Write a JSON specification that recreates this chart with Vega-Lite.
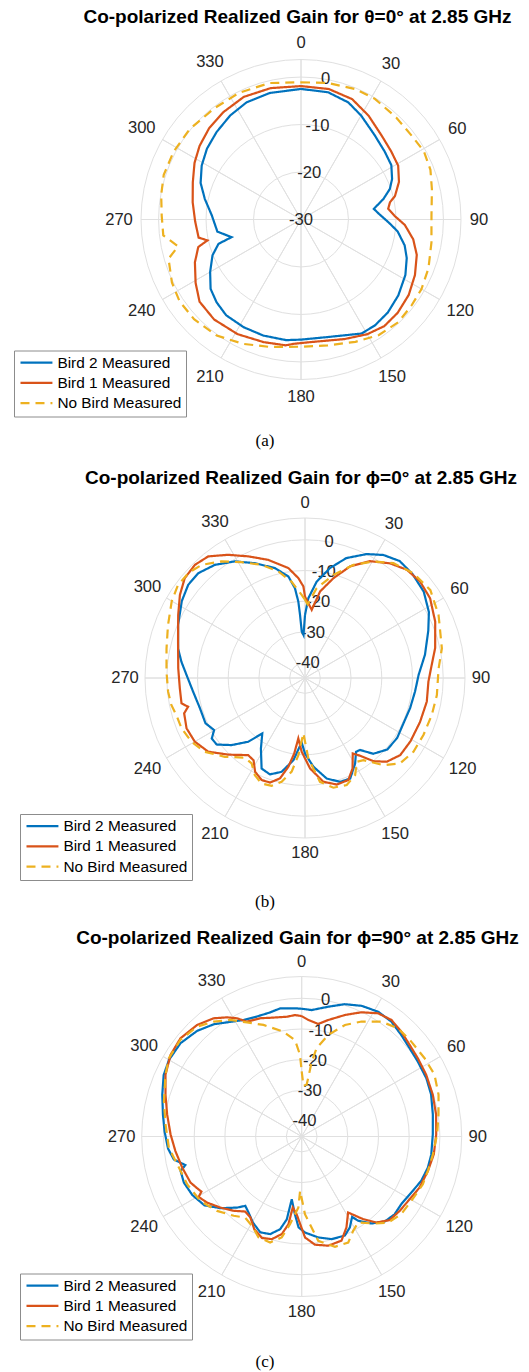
{
"$schema": "https://vega.github.io/schema/vega-lite/v6.json",
"background": "white",
"padding": {"top": 7.5, "left": 5, "right": 5, "bottom": 5},
"spacing": 19.5,
"datasets": {
"angles": [{"t":0,"lab":"0"},{"t":30,"lab":"30"},{"t":60,"lab":"60"},{"t":90,"lab":"90"},{"t":120,"lab":"120"},{"t":150,"lab":"150"},{"t":180,"lab":"180"},{"t":210,"lab":"210"},{"t":240,"lab":"240"},{"t":270,"lab":"270"},{"t":300,"lab":"300"},{"t":330,"lab":"330"}],
"ringsA": [{"g":-20},{"g":-10},{"g":0},{"g":3.7}],
"ringsB": [{"g":-40},{"g":-30},{"g":-20},{"g":-10},{"g":0},{"g":7.1}],
"ticksA": [{"g":-30,"lab":"-30"},{"g":-20,"lab":"-20"},{"g":-10,"lab":"-10"},{"g":0,"lab":"0"}],
"ticksB": [{"g":-40,"lab":"-40"},{"g":-30,"lab":"-30"},{"g":-20,"lab":"-20"},{"g":-10,"lab":"-10"},{"g":0,"lab":"0"}],
"a": [
{"s":"Bird 2 Measured","t":0,"g":-2.5},{"s":"Bird 2 Measured","t":12,"g":-2.6},{"s":"Bird 2 Measured","t":22,"g":-3.4},{"s":"Bird 2 Measured","t":30,"g":-4.7},{"s":"Bird 2 Measured","t":41,"g":-6.4},{"s":"Bird 2 Measured","t":51,"g":-7.3},{"s":"Bird 2 Measured","t":59,"g":-7.8},{"s":"Bird 2 Measured","t":66,"g":-9.0},{"s":"Bird 2 Measured","t":71,"g":-10.2},{"s":"Bird 2 Measured","t":76,"g":-12.1},{"s":"Bird 2 Measured","t":81.7,"g":-14.5},{"s":"Bird 2 Measured","t":86,"g":-13.5},{"s":"Bird 2 Measured","t":92,"g":-11.5},{"s":"Bird 2 Measured","t":97,"g":-9.5},{"s":"Bird 2 Measured","t":104,"g":-7.5},{"s":"Bird 2 Measured","t":110,"g":-6.3},{"s":"Bird 2 Measured","t":118,"g":-5.1},{"s":"Bird 2 Measured","t":128,"g":-4.0},{"s":"Bird 2 Measured","t":137,"g":-3.2},{"s":"Bird 2 Measured","t":145,"g":-2.8},{"s":"Bird 2 Measured","t":152,"g":-2.8},{"s":"Bird 2 Measured","t":167,"g":-4.6},{"s":"Bird 2 Measured","t":180,"g":-4.7},{"s":"Bird 2 Measured","t":187,"g":-4.4},{"s":"Bird 2 Measured","t":198,"g":-4.3},{"s":"Bird 2 Measured","t":208,"g":-4.3},{"s":"Bird 2 Measured","t":218,"g":-4.4},{"s":"Bird 2 Measured","t":225.6,"g":-5.1},{"s":"Bird 2 Measured","t":232.5,"g":-6.0},{"s":"Bird 2 Measured","t":240,"g":-7.9},{"s":"Bird 2 Measured","t":248,"g":-9.9},{"s":"Bird 2 Measured","t":253.6,"g":-11.9},{"s":"Bird 2 Measured","t":255.7,"g":-14.9},{"s":"Bird 2 Measured","t":261.8,"g":-12.2},{"s":"Bird 2 Measured","t":272.6,"g":-11.2},{"s":"Bird 2 Measured","t":282,"g":-9.3},{"s":"Bird 2 Measured","t":290,"g":-7.5},{"s":"Bird 2 Measured","t":298.5,"g":-6.2},{"s":"Bird 2 Measured","t":307,"g":-5.2},{"s":"Bird 2 Measured","t":316,"g":-4.4},{"s":"Bird 2 Measured","t":325.7,"g":-3.5},{"s":"Bird 2 Measured","t":335,"g":-2.8},{"s":"Bird 2 Measured","t":346,"g":-2.55},{"s":"Bird 2 Measured","t":360,"g":-2.5},
{"s":"Bird 1 Measured","t":0,"g":-1.9},{"s":"Bird 1 Measured","t":12,"g":-1.9},{"s":"Bird 1 Measured","t":23,"g":-2.45},{"s":"Bird 1 Measured","t":33,"g":-3.9},{"s":"Bird 1 Measured","t":44,"g":-5.5},{"s":"Bird 1 Measured","t":53,"g":-6.2},{"s":"Bird 1 Measured","t":61,"g":-6.6},{"s":"Bird 1 Measured","t":69,"g":-7.9},{"s":"Bird 1 Measured","t":76,"g":-9.6},{"s":"Bird 1 Measured","t":79,"g":-10.9},{"s":"Bird 1 Measured","t":83,"g":-11.5},{"s":"Bird 1 Measured","t":88,"g":-10.2},{"s":"Bird 1 Measured","t":93,"g":-8.1},{"s":"Bird 1 Measured","t":100,"g":-6.0},{"s":"Bird 1 Measured","t":107,"g":-4.5},{"s":"Bird 1 Measured","t":116,"g":-3.3},{"s":"Bird 1 Measured","t":125,"g":-2.3},{"s":"Bird 1 Measured","t":134,"g":-1.7},{"s":"Bird 1 Measured","t":142,"g":-1.5},{"s":"Bird 1 Measured","t":150,"g":-2.1},{"s":"Bird 1 Measured","t":160,"g":-3.2},{"s":"Bird 1 Measured","t":175,"g":-4.1},{"s":"Bird 1 Measured","t":183,"g":-3.8},{"s":"Bird 1 Measured","t":187,"g":-3.3},{"s":"Bird 1 Measured","t":197,"g":-3.0},{"s":"Bird 1 Measured","t":209,"g":-2.4},{"s":"Bird 1 Measured","t":221,"g":-2.1},{"s":"Bird 1 Measured","t":231,"g":-2.5},{"s":"Bird 1 Measured","t":239,"g":-4.1},{"s":"Bird 1 Measured","t":248,"g":-5.9},{"s":"Bird 1 Measured","t":255,"g":-7.6},{"s":"Bird 1 Measured","t":257.4,"g":-9.8},{"s":"Bird 1 Measured","t":260,"g":-8.1},{"s":"Bird 1 Measured","t":269,"g":-7.7},{"s":"Bird 1 Measured","t":279,"g":-6.9},{"s":"Bird 1 Measured","t":289,"g":-5.9},{"s":"Bird 1 Measured","t":298,"g":-4.6},{"s":"Bird 1 Measured","t":306,"g":-3.6},{"s":"Bird 1 Measured","t":315,"g":-2.7},{"s":"Bird 1 Measured","t":324,"g":-2.1},{"s":"Bird 1 Measured","t":335,"g":-1.5},{"s":"Bird 1 Measured","t":347,"g":-1.6},{"s":"Bird 1 Measured","t":360,"g":-1.9},
{"s":"No Bird Measured","t":0,"g":-1.1},{"s":"No Bird Measured","t":11,"g":-0.7},{"s":"No Bird Measured","t":22.5,"g":-0.25},{"s":"No Bird Measured","t":31.5,"g":-0.2},{"s":"No Bird Measured","t":43,"g":-0.6},{"s":"No Bird Measured","t":53,"g":-0.75},{"s":"No Bird Measured","t":61,"g":-0.4},{"s":"No Bird Measured","t":69,"g":-0.8},{"s":"No Bird Measured","t":77,"g":-1.7},{"s":"No Bird Measured","t":88,"g":-2.5},{"s":"No Bird Measured","t":100,"g":-2.1},{"s":"No Bird Measured","t":111,"g":-1.25},{"s":"No Bird Measured","t":120,"g":-0.7},{"s":"No Bird Measured","t":128,"g":-0.5},{"s":"No Bird Measured","t":136.5,"g":-0.2},{"s":"No Bird Measured","t":146,"g":-0.65},{"s":"No Bird Measured","t":156,"g":-1.8},{"s":"No Bird Measured","t":168,"g":-2.9},{"s":"No Bird Measured","t":180,"g":-3.2},{"s":"No Bird Measured","t":194,"g":-2.35},{"s":"No Bird Measured","t":205,"g":-1.1},{"s":"No Bird Measured","t":216,"g":0.2},{"s":"No Bird Measured","t":227,"g":0.8},{"s":"No Bird Measured","t":236,"g":0.85},{"s":"No Bird Measured","t":244,"g":0.25},{"s":"No Bird Measured","t":253.5,"g":-0.9},{"s":"No Bird Measured","t":257.7,"g":-3.5},{"s":"No Bird Measured","t":263.4,"g":-0.8},{"s":"No Bird Measured","t":271.6,"g":-0.65},{"s":"No Bird Measured","t":280,"g":-0.1},{"s":"No Bird Measured","t":288,"g":0.4},{"s":"No Bird Measured","t":298,"g":0.4},{"s":"No Bird Measured","t":309,"g":0.2},{"s":"No Bird Measured","t":322,"g":-0.3},{"s":"No Bird Measured","t":334,"g":-0.3},{"s":"No Bird Measured","t":347,"g":-0.5},{"s":"No Bird Measured","t":360,"g":-1.1}
],
"b": [
{"s":"Bird 2 Measured","t":0,"g":-24.5},{"s":"Bird 2 Measured","t":2.4,"g":-19},{"s":"Bird 2 Measured","t":6.9,"g":-13.4},{"s":"Bird 2 Measured","t":12.8,"g":-8.3},{"s":"Bird 2 Measured","t":19,"g":-3.7},{"s":"Bird 2 Measured","t":26.5,"g":0.1},{"s":"Bird 2 Measured","t":32.5,"g":2.5},{"s":"Bird 2 Measured","t":39,"g":4.0},{"s":"Bird 2 Measured","t":46,"g":3.7},{"s":"Bird 2 Measured","t":54,"g":2.8},{"s":"Bird 2 Measured","t":62,"g":0.7},{"s":"Bird 2 Measured","t":69,"g":-2.0},{"s":"Bird 2 Measured","t":79,"g":-5.2},{"s":"Bird 2 Measured","t":88.5,"g":-8.0},{"s":"Bird 2 Measured","t":97,"g":-8.9},{"s":"Bird 2 Measured","t":106,"g":-9.4},{"s":"Bird 2 Measured","t":115,"g":-9.7},{"s":"Bird 2 Measured","t":123,"g":-9.2},{"s":"Bird 2 Measured","t":131,"g":-9.5},{"s":"Bird 2 Measured","t":138,"g":-11.8},{"s":"Bird 2 Measured","t":142.6,"g":-15.5},{"s":"Bird 2 Measured","t":145.3,"g":-15.8},{"s":"Bird 2 Measured","t":149.6,"g":-12.75},{"s":"Bird 2 Measured","t":155.8,"g":-9.1},{"s":"Bird 2 Measured","t":161.3,"g":-9.3},{"s":"Bird 2 Measured","t":167.8,"g":-11.5},{"s":"Bird 2 Measured","t":174.6,"g":-16},{"s":"Bird 2 Measured","t":180,"g":-20.4},{"s":"Bird 2 Measured","t":183,"g":-24},{"s":"Bird 2 Measured","t":188,"g":-18},{"s":"Bird 2 Measured","t":194,"g":-13.5},{"s":"Bird 2 Measured","t":200,"g":-11.6},{"s":"Bird 2 Measured","t":205.6,"g":-12.3},{"s":"Bird 2 Measured","t":212,"g":-17.9},{"s":"Bird 2 Measured","t":217.6,"g":-22.2},{"s":"Bird 2 Measured","t":221.7,"g":-17.2},{"s":"Bird 2 Measured","t":227.6,"g":-12.6},{"s":"Bird 2 Measured","t":233,"g":-9.0},{"s":"Bird 2 Measured","t":237,"g":-8.8},{"s":"Bird 2 Measured","t":240.2,"g":-10.9},{"s":"Bird 2 Measured","t":245.5,"g":-9.4},{"s":"Bird 2 Measured","t":254,"g":-9.4},{"s":"Bird 2 Measured","t":263,"g":-8.3},{"s":"Bird 2 Measured","t":271.5,"g":-6.4},{"s":"Bird 2 Measured","t":277.5,"g":-4.4},{"s":"Bird 2 Measured","t":283,"g":-2.6},{"s":"Bird 2 Measured","t":292.7,"g":-0.2},{"s":"Bird 2 Measured","t":302,"g":2.3},{"s":"Bird 2 Measured","t":308.6,"g":3.65},{"s":"Bird 2 Measured","t":314.5,"g":3.7},{"s":"Bird 2 Measured","t":321.5,"g":2.1},{"s":"Bird 2 Measured","t":329,"g":-0.7},{"s":"Bird 2 Measured","t":336.4,"g":-4.2},{"s":"Bird 2 Measured","t":344.7,"g":-7.9},{"s":"Bird 2 Measured","t":350.7,"g":-11.5},{"s":"Bird 2 Measured","t":353.6,"g":-15.6},{"s":"Bird 2 Measured","t":355,"g":-20},{"s":"Bird 2 Measured","t":355.5,"g":-24.4},{"s":"Bird 2 Measured","t":356,"g":-29.8},{"s":"Bird 2 Measured","t":358,"g":-31},{"s":"Bird 2 Measured","t":360,"g":-24.5},
{"s":"Bird 1 Measured","t":0,"g":-18.5},{"s":"Bird 1 Measured","t":5.6,"g":-22.7},{"s":"Bird 1 Measured","t":9.9,"g":-16.4},{"s":"Bird 1 Measured","t":15.9,"g":-11.2},{"s":"Bird 1 Measured","t":22,"g":-5.8},{"s":"Bird 1 Measured","t":29,"g":-1.5},{"s":"Bird 1 Measured","t":36.6,"g":1.5},{"s":"Bird 1 Measured","t":43.3,"g":3.4},{"s":"Bird 1 Measured","t":50,"g":3.9},{"s":"Bird 1 Measured","t":57.5,"g":3.3},{"s":"Bird 1 Measured","t":66.6,"g":1.2},{"s":"Bird 1 Measured","t":77,"g":-1.5},{"s":"Bird 1 Measured","t":84,"g":-3.5},{"s":"Bird 1 Measured","t":91.7,"g":-4.8},{"s":"Bird 1 Measured","t":101,"g":-4.6},{"s":"Bird 1 Measured","t":111,"g":-4.9},{"s":"Bird 1 Measured","t":121,"g":-4.95},{"s":"Bird 1 Measured","t":129,"g":-5.1},{"s":"Bird 1 Measured","t":135.7,"g":-6.9},{"s":"Bird 1 Measured","t":140.5,"g":-9.9},{"s":"Bird 1 Measured","t":144.7,"g":-14},{"s":"Bird 1 Measured","t":147.7,"g":-15.9},{"s":"Bird 1 Measured","t":152.3,"g":-11.7},{"s":"Bird 1 Measured","t":157,"g":-8.9},{"s":"Bird 1 Measured","t":163.4,"g":-8.8},{"s":"Bird 1 Measured","t":170,"g":-10.7},{"s":"Bird 1 Measured","t":176.8,"g":-15.5},{"s":"Bird 1 Measured","t":182.6,"g":-21},{"s":"Bird 1 Measured","t":186.3,"g":-25.2},{"s":"Bird 1 Measured","t":188.1,"g":-20.2},{"s":"Bird 1 Measured","t":190.6,"g":-15.6},{"s":"Bird 1 Measured","t":194,"g":-11.3},{"s":"Bird 1 Measured","t":198.5,"g":-9.1},{"s":"Bird 1 Measured","t":203,"g":-8.9},{"s":"Bird 1 Measured","t":208,"g":-10.4},{"s":"Bird 1 Measured","t":212,"g":-13.4},{"s":"Bird 1 Measured","t":216.4,"g":-13.8},{"s":"Bird 1 Measured","t":225,"g":-9.7},{"s":"Bird 1 Measured","t":232.7,"g":-5.4},{"s":"Bird 1 Measured","t":240,"g":-3.55},{"s":"Bird 1 Measured","t":247,"g":-3.1},{"s":"Bird 1 Measured","t":253.7,"g":-4.0},{"s":"Bird 1 Measured","t":256.2,"g":-5.8},{"s":"Bird 1 Measured","t":258.4,"g":-3.95},{"s":"Bird 1 Measured","t":265.3,"g":-4.1},{"s":"Bird 1 Measured","t":274.4,"g":-3.6},{"s":"Bird 1 Measured","t":286,"g":-2.0},{"s":"Bird 1 Measured","t":296.4,"g":1.1},{"s":"Bird 1 Measured","t":303.6,"g":3.9},{"s":"Bird 1 Measured","t":309.7,"g":5.9},{"s":"Bird 1 Measured","t":315.8,"g":6.4},{"s":"Bird 1 Measured","t":321.5,"g":5.6},{"s":"Bird 1 Measured","t":328,"g":2.3},{"s":"Bird 1 Measured","t":335,"g":-1.3},{"s":"Bird 1 Measured","t":342.7,"g":-4.7},{"s":"Bird 1 Measured","t":351.4,"g":-8.8},{"s":"Bird 1 Measured","t":356.2,"g":-12.4},{"s":"Bird 1 Measured","t":359,"g":-15.2},{"s":"Bird 1 Measured","t":360,"g":-18.5},
{"s":"No Bird Measured","t":0,"g":-19.5},{"s":"No Bird Measured","t":2,"g":-21},{"s":"No Bird Measured","t":7.4,"g":-15.5},{"s":"No Bird Measured","t":15.4,"g":-10.2},{"s":"No Bird Measured","t":23.2,"g":-4.9},{"s":"No Bird Measured","t":30.4,"g":-1.0},{"s":"No Bird Measured","t":37.6,"g":2.2},{"s":"No Bird Measured","t":46,"g":4.1},{"s":"No Bird Measured","t":55,"g":4.85},{"s":"No Bird Measured","t":64.7,"g":3.1},{"s":"No Bird Measured","t":77.8,"g":0.6},{"s":"No Bird Measured","t":86,"g":-1.4},{"s":"No Bird Measured","t":97.4,"g":-1.7},{"s":"No Bird Measured","t":106.3,"g":-2.0},{"s":"No Bird Measured","t":115.7,"g":-2.2},{"s":"No Bird Measured","t":124.2,"g":-2.3},{"s":"No Bird Measured","t":131.9,"g":-3.4},{"s":"No Bird Measured","t":138,"g":-6.8},{"s":"No Bird Measured","t":144.6,"g":-12.2},{"s":"No Bird Measured","t":148.3,"g":-12.9},{"s":"No Bird Measured","t":152.7,"g":-9.4},{"s":"No Bird Measured","t":158.7,"g":-7.6},{"s":"No Bird Measured","t":165.5,"g":-8.1},{"s":"No Bird Measured","t":171.8,"g":-10.85},{"s":"No Bird Measured","t":177.6,"g":-18.8},{"s":"No Bird Measured","t":181.7,"g":-27},{"s":"No Bird Measured","t":184.9,"g":-19.8},{"s":"No Bird Measured","t":188.1,"g":-14.2},{"s":"No Bird Measured","t":192.7,"g":-10.35},{"s":"No Bird Measured","t":197.2,"g":-8.25},{"s":"No Bird Measured","t":202.4,"g":-7.85},{"s":"No Bird Measured","t":207.3,"g":-9.4},{"s":"No Bird Measured","t":212,"g":-12.2},{"s":"No Bird Measured","t":217,"g":-12.5},{"s":"No Bird Measured","t":225.5,"g":-8.4},{"s":"No Bird Measured","t":233.6,"g":-4.5},{"s":"No Bird Measured","t":240.7,"g":-2.6},{"s":"No Bird Measured","t":247.8,"g":-1.6},{"s":"No Bird Measured","t":253.9,"g":-1.4},{"s":"No Bird Measured","t":258.6,"g":-0.6},{"s":"No Bird Measured","t":264.3,"g":-0.2},{"s":"No Bird Measured","t":272.6,"g":0.15},{"s":"No Bird Measured","t":282,"g":1.1},{"s":"No Bird Measured","t":291,"g":2.8},{"s":"No Bird Measured","t":300,"g":5.1},{"s":"No Bird Measured","t":306,"g":6.2},{"s":"No Bird Measured","t":312,"g":6.1},{"s":"No Bird Measured","t":317.6,"g":4.9},{"s":"No Bird Measured","t":324.4,"g":1.7},{"s":"No Bird Measured","t":331.3,"g":-2.0},{"s":"No Bird Measured","t":339,"g":-5.5},{"s":"No Bird Measured","t":346,"g":-9.25},{"s":"No Bird Measured","t":352,"g":-13.3},{"s":"No Bird Measured","t":357.7,"g":-17.9},{"s":"No Bird Measured","t":360,"g":-19.5}
],
"c": [
{"s":"Bird 2 Measured","t":0,"g":-3.4},{"s":"Bird 2 Measured","t":4.5,"g":-3.7},{"s":"Bird 2 Measured","t":11.6,"g":-1.85},{"s":"Bird 2 Measured","t":18,"g":0.3},{"s":"Bird 2 Measured","t":24.6,"g":1.8},{"s":"Bird 2 Measured","t":31.5,"g":2.65},{"s":"Bird 2 Measured","t":38,"g":2.45},{"s":"Bird 2 Measured","t":44.4,"g":1.3},{"s":"Bird 2 Measured","t":50.7,"g":0.4},{"s":"Bird 2 Measured","t":57,"g":0.0},{"s":"Bird 2 Measured","t":65,"g":-0.2},{"s":"Bird 2 Measured","t":72,"g":-0.7},{"s":"Bird 2 Measured","t":80.5,"g":-1.7},{"s":"Bird 2 Measured","t":89,"g":-2.3},{"s":"Bird 2 Measured","t":98,"g":-2.4},{"s":"Bird 2 Measured","t":104,"g":-2.7},{"s":"Bird 2 Measured","t":110.4,"g":-3.5},{"s":"Bird 2 Measured","t":117,"g":-4.9},{"s":"Bird 2 Measured","t":124,"g":-5.8},{"s":"Bird 2 Measured","t":130,"g":-5.55},{"s":"Bird 2 Measured","t":135.7,"g":-6.3},{"s":"Bird 2 Measured","t":141.3,"g":-8.7},{"s":"Bird 2 Measured","t":146.2,"g":-12},{"s":"Bird 2 Measured","t":147.9,"g":-14.1},{"s":"Bird 2 Measured","t":152.1,"g":-11.5},{"s":"Bird 2 Measured","t":156.5,"g":-9.8},{"s":"Bird 2 Measured","t":163.8,"g":-10.2},{"s":"Bird 2 Measured","t":170.7,"g":-11.7},{"s":"Bird 2 Measured","t":178,"g":-13.7},{"s":"Bird 2 Measured","t":182,"g":-15.4},{"s":"Bird 2 Measured","t":185,"g":-19.6},{"s":"Bird 2 Measured","t":189,"g":-24.3},{"s":"Bird 2 Measured","t":190.2,"g":-17.6},{"s":"Bird 2 Measured","t":193.1,"g":-14},{"s":"Bird 2 Measured","t":197.9,"g":-11.6},{"s":"Bird 2 Measured","t":203.4,"g":-11},{"s":"Bird 2 Measured","t":209.6,"g":-12.8},{"s":"Bird 2 Measured","t":215,"g":-14.8},{"s":"Bird 2 Measured","t":219.1,"g":-15.9},{"s":"Bird 2 Measured","t":222.3,"g":-13.7},{"s":"Bird 2 Measured","t":228.6,"g":-9.7},{"s":"Bird 2 Measured","t":234.7,"g":-6.2},{"s":"Bird 2 Measured","t":241.9,"g":-4.6},{"s":"Bird 2 Measured","t":248.6,"g":-3.8},{"s":"Bird 2 Measured","t":254.1,"g":-4.0},{"s":"Bird 2 Measured","t":256.2,"g":-6.0},{"s":"Bird 2 Measured","t":259.8,"g":-2.7},{"s":"Bird 2 Measured","t":264.8,"g":-1.3},{"s":"Bird 2 Measured","t":272.2,"g":-0.3},{"s":"Bird 2 Measured","t":279,"g":0.75},{"s":"Bird 2 Measured","t":286.7,"g":2.4},{"s":"Bird 2 Measured","t":294,"g":4.2},{"s":"Bird 2 Measured","t":300,"g":4.9},{"s":"Bird 2 Measured","t":307.6,"g":4.8},{"s":"Bird 2 Measured","t":315.3,"g":3.4},{"s":"Bird 2 Measured","t":322,"g":1.4},{"s":"Bird 2 Measured","t":328,"g":-1.0},{"s":"Bird 2 Measured","t":333.5,"g":-2.6},{"s":"Bird 2 Measured","t":339.5,"g":-3.3},{"s":"Bird 2 Measured","t":345.7,"g":-3.3},{"s":"Bird 2 Measured","t":350.4,"g":-2.7},{"s":"Bird 2 Measured","t":357,"g":-3.2},{"s":"Bird 2 Measured","t":360,"g":-3.4},
{"s":"Bird 1 Measured","t":0,"g":-5.8},{"s":"Bird 1 Measured","t":3.3,"g":-7.0},{"s":"Bird 1 Measured","t":8.4,"g":-7.95},{"s":"Bird 1 Measured","t":12.8,"g":-6.1},{"s":"Bird 1 Measured","t":19.6,"g":-3.0},{"s":"Bird 1 Measured","t":25.7,"g":-0.1},{"s":"Bird 1 Measured","t":31.8,"g":2.2},{"s":"Bird 1 Measured","t":37.6,"g":2.9},{"s":"Bird 1 Measured","t":43.5,"g":2.1},{"s":"Bird 1 Measured","t":49.7,"g":1.1},{"s":"Bird 1 Measured","t":56,"g":0.6},{"s":"Bird 1 Measured","t":63.6,"g":0.25},{"s":"Bird 1 Measured","t":72.3,"g":-0.2},{"s":"Bird 1 Measured","t":80.7,"g":-0.65},{"s":"Bird 1 Measured","t":89.2,"g":-1.2},{"s":"Bird 1 Measured","t":97.7,"g":-1.6},{"s":"Bird 1 Measured","t":105.3,"g":-2.4},{"s":"Bird 1 Measured","t":113.5,"g":-3.2},{"s":"Bird 1 Measured","t":120.2,"g":-4.35},{"s":"Bird 1 Measured","t":127.2,"g":-4.95},{"s":"Bird 1 Measured","t":133.6,"g":-5.5},{"s":"Bird 1 Measured","t":139,"g":-7.9},{"s":"Bird 1 Measured","t":143.4,"g":-11.5},{"s":"Bird 1 Measured","t":148.6,"g":-16},{"s":"Bird 1 Measured","t":153.8,"g":-12},{"s":"Bird 1 Measured","t":159.1,"g":-8.7},{"s":"Bird 1 Measured","t":166.3,"g":-8.4},{"s":"Bird 1 Measured","t":173,"g":-9.5},{"s":"Bird 1 Measured","t":178.1,"g":-12.1},{"s":"Bird 1 Measured","t":183.7,"g":-19.6},{"s":"Bird 1 Measured","t":187.2,"g":-21.7},{"s":"Bird 1 Measured","t":188.6,"g":-16.1},{"s":"Bird 1 Measured","t":191.5,"g":-12.6},{"s":"Bird 1 Measured","t":196.2,"g":-10.2},{"s":"Bird 1 Measured","t":201.4,"g":-9.5},{"s":"Bird 1 Measured","t":207.1,"g":-11.1},{"s":"Bird 1 Measured","t":212.4,"g":-13.8},{"s":"Bird 1 Measured","t":217,"g":-14.4},{"s":"Bird 1 Measured","t":222.5,"g":-12.2},{"s":"Bird 1 Measured","t":228.9,"g":-9.8},{"s":"Bird 1 Measured","t":235.1,"g":-7.4},{"s":"Bird 1 Measured","t":239.6,"g":-6.1},{"s":"Bird 1 Measured","t":241.2,"g":-7.75},{"s":"Bird 1 Measured","t":243.7,"g":-7.0},{"s":"Bird 1 Measured","t":247.5,"g":-5.8},{"s":"Bird 1 Measured","t":255.4,"g":-4.8},{"s":"Bird 1 Measured","t":263.4,"g":-3.6},{"s":"Bird 1 Measured","t":270.9,"g":-2.3},{"s":"Bird 1 Measured","t":279.3,"g":-0.6},{"s":"Bird 1 Measured","t":287.1,"g":1.4},{"s":"Bird 1 Measured","t":294.4,"g":3.7},{"s":"Bird 1 Measured","t":301.9,"g":5.3},{"s":"Bird 1 Measured","t":309,"g":5.8},{"s":"Bird 1 Measured","t":316.8,"g":4.8},{"s":"Bird 1 Measured","t":323.3,"g":3.0},{"s":"Bird 1 Measured","t":327.9,"g":0.8},{"s":"Bird 1 Measured","t":331.3,"g":-1.1},{"s":"Bird 1 Measured","t":334.5,"g":-3.6},{"s":"Bird 1 Measured","t":340.7,"g":-4.2},{"s":"Bird 1 Measured","t":346.6,"g":-5.2},{"s":"Bird 1 Measured","t":352.9,"g":-5.7},{"s":"Bird 1 Measured","t":356.9,"g":-5.4},{"s":"Bird 1 Measured","t":360,"g":-5.8},
{"s":"No Bird Measured","t":0,"g":-23.8},{"s":"No Bird Measured","t":2,"g":-28.5},{"s":"No Bird Measured","t":5.5,"g":-28},{"s":"No Bird Measured","t":6.7,"g":-24.75},{"s":"No Bird Measured","t":7.6,"g":-20.4},{"s":"No Bird Measured","t":9.6,"g":-15.8},{"s":"No Bird Measured","t":14.7,"g":-10.8},{"s":"No Bird Measured","t":21.2,"g":-6.05},{"s":"No Bird Measured","t":27.5,"g":-2.8},{"s":"No Bird Measured","t":34.7,"g":0.5},{"s":"No Bird Measured","t":41.7,"g":2.2},{"s":"No Bird Measured","t":49,"g":2.2},{"s":"No Bird Measured","t":57.5,"g":2.45},{"s":"No Bird Measured","t":65,"g":2.7},{"s":"No Bird Measured","t":73,"g":1.6},{"s":"No Bird Measured","t":81,"g":0.1},{"s":"No Bird Measured","t":89,"g":-0.9},{"s":"No Bird Measured","t":98,"g":-1.9},{"s":"No Bird Measured","t":105,"g":-2.4},{"s":"No Bird Measured","t":111.5,"g":-2.6},{"s":"No Bird Measured","t":120.4,"g":-3.6},{"s":"No Bird Measured","t":128,"g":-3.9},{"s":"No Bird Measured","t":135,"g":-5.3},{"s":"No Bird Measured","t":140,"g":-8.0},{"s":"No Bird Measured","t":146.7,"g":-11.5},{"s":"No Bird Measured","t":151.4,"g":-10},{"s":"No Bird Measured","t":156.3,"g":-7.3},{"s":"No Bird Measured","t":163.2,"g":-7.5},{"s":"No Bird Measured","t":171,"g":-10.6},{"s":"No Bird Measured","t":177.6,"g":-19.7},{"s":"No Bird Measured","t":181.7,"g":-27.3},{"s":"No Bird Measured","t":182.7,"g":-21.8},{"s":"No Bird Measured","t":187.6,"g":-16.2},{"s":"No Bird Measured","t":191.2,"g":-11.5},{"s":"No Bird Measured","t":196.6,"g":-9.0},{"s":"No Bird Measured","t":203.2,"g":-9.3},{"s":"No Bird Measured","t":209.1,"g":-11.7},{"s":"No Bird Measured","t":214.9,"g":-12.8},{"s":"No Bird Measured","t":220.6,"g":-11},{"s":"No Bird Measured","t":228.7,"g":-8.3},{"s":"No Bird Measured","t":237.5,"g":-5.9},{"s":"No Bird Measured","t":247.3,"g":-4.6},{"s":"No Bird Measured","t":257.4,"g":-3.5},{"s":"No Bird Measured","t":265.1,"g":-1.6},{"s":"No Bird Measured","t":275,"g":-0.5},{"s":"No Bird Measured","t":284.3,"g":1.3},{"s":"No Bird Measured","t":294.4,"g":3.7},{"s":"No Bird Measured","t":300.5,"g":5.2},{"s":"No Bird Measured","t":308.6,"g":5.5},{"s":"No Bird Measured","t":316.4,"g":4.4},{"s":"No Bird Measured","t":322.6,"g":2.1},{"s":"No Bird Measured","t":328.5,"g":-0.5},{"s":"No Bird Measured","t":334.4,"g":-3.8},{"s":"No Bird Measured","t":341.1,"g":-6.6},{"s":"No Bird Measured","t":350,"g":-10.3},{"s":"No Bird Measured","t":356,"g":-13.5},{"s":"No Bird Measured","t":358.8,"g":-18.4},{"s":"No Bird Measured","t":360,"g":-23.8}
]
},
"vconcat": [
{
"width": 519, "height": 393,
"title": {"text": "Co-polarized Realized Gain for θ=0° at 2.85 GHz", "dx": 33},
"layer": [
{"data": {"name": "angles"}, "transform": [{"calculate": "160*sin(datum.t*PI/180)", "as": "sx"}, {"calculate": "160*cos(datum.t*PI/180)", "as": "sy"}, {"calculate": "-datum.sx", "as": "nx"}, {"calculate": "-datum.sy", "as": "ny"}],
 "mark": {"type": "rule", "stroke": "#e0e0e0", "strokeWidth": 1},
 "encoding": {"x": {"field": "sx", "type": "quantitative", "scale": {"domain": [-296, 223], "nice": false, "zero": false}, "title": "(a)"}, "y": {"field": "sy", "type": "quantitative", "scale": {"domain": [-206, 187], "nice": false, "zero": false}, "axis": null}, "x2": {"field": "nx"}, "y2": {"field": "ny"}}},
{"data": {"name": "ringsA"}, "transform": [{"calculate": "(datum.g+30)*160/33.7", "as": "rp"}],
 "mark": {"type": "point", "shape": "circle", "filled": false, "stroke": "#e0e0e0", "strokeWidth": 1, "opacity": 1},
 "encoding": {"x": {"datum": 0, "type": "quantitative", "scale": {"domain": [-296, 223], "nice": false, "zero": false}, "title": "(a)"}, "y": {"datum": 0, "type": "quantitative", "scale": {"domain": [-206, 187], "nice": false, "zero": false}, "axis": null}, "size": {"field": "rp", "type": "quantitative", "scale": {"type": "pow", "exponent": 2, "domain": [0, 160], "range": [0, 102400]}, "legend": null}}},
{"data": {"name": "angles"}, "transform": [{"calculate": "170 + 4*length(datum.lab)*abs(sin(datum.t*PI/180)) + 7*abs(cos(datum.t*PI/180))", "as": "d"}, {"calculate": "datum.d*sin(datum.t*PI/180)", "as": "lx"}, {"calculate": "datum.d*cos(datum.t*PI/180)", "as": "ly"}],
 "mark": {"type": "text", "fontSize": 16.6, "color": "#262626", "align": "center", "baseline": "middle"},
 "encoding": {"x": {"field": "lx", "type": "quantitative", "scale": {"domain": [-296, 223], "nice": false, "zero": false}, "title": "(a)"}, "y": {"field": "ly", "type": "quantitative", "scale": {"domain": [-206, 187], "nice": false, "zero": false}, "axis": null}, "text": {"field": "lab", "type": "nominal"}}},
{"data": {"name": "ticksA"}, "transform": [{"calculate": "(datum.g+30)*160/33.7", "as": "rp"}, {"calculate": "datum.rp*sin(10*PI/180)", "as": "lx"}, {"calculate": "datum.rp*cos(10*PI/180)", "as": "ly"}],
 "mark": {"type": "text", "fontSize": 16.6, "color": "#262626", "align": "center", "baseline": "middle"},
 "encoding": {"x": {"field": "lx", "type": "quantitative", "scale": {"domain": [-296, 223], "nice": false, "zero": false}, "title": "(a)"}, "y": {"field": "ly", "type": "quantitative", "scale": {"domain": [-206, 187], "nice": false, "zero": false}, "axis": null}, "text": {"field": "lab", "type": "nominal"}}},
{"data": {"name": "a"}, "transform": [{"calculate": "(datum.g+30)*160/33.7", "as": "rp"}, {"calculate": "datum.rp*sin(datum.t*PI/180)", "as": "x"}, {"calculate": "datum.rp*cos(datum.t*PI/180)", "as": "y"}],
 "mark": {"type": "line", "strokeWidth": 2.2},
 "encoding": {"x": {"field": "x", "type": "quantitative", "scale": {"domain": [-296, 223], "nice": false, "zero": false}, "title": "(a)"}, "y": {"field": "y", "type": "quantitative", "scale": {"domain": [-206, 187], "nice": false, "zero": false}, "axis": null}, "order": {"field": "t", "type": "quantitative"},
  "color": {"field": "s", "type": "nominal", "scale": {"domain": ["Bird 2 Measured", "Bird 1 Measured", "No Bird Measured"], "range": ["#0072BD", "#D95319", "#EDB120"]}, "legend": {"legendX": 9, "legendY": 318}},
  "strokeDash": {"field": "s", "type": "nominal", "scale": {"domain": ["Bird 2 Measured", "Bird 1 Measured", "No Bird Measured"], "range": [[1, 0], [1, 0], [9, 6]]}, "legend": {"legendX": 9, "legendY": 318}}}}
]
},
{
"width": 519, "height": 393,
"title": {"text": "Co-polarized Realized Gain for ϕ=0° at 2.85 GHz", "dx": 36.5},
"layer": [
{"data": {"name": "angles"}, "transform": [{"calculate": "160*sin(datum.t*PI/180)", "as": "sx"}, {"calculate": "160*cos(datum.t*PI/180)", "as": "sy"}, {"calculate": "-datum.sx", "as": "nx"}, {"calculate": "-datum.sy", "as": "ny"}],
 "mark": {"type": "rule", "stroke": "#e0e0e0", "strokeWidth": 1},
 "encoding": {"x": {"field": "sx", "type": "quantitative", "scale": {"domain": [-300, 219], "nice": false, "zero": false}, "title": "(b)"}, "y": {"field": "sy", "type": "quantitative", "scale": {"domain": [-208, 185], "nice": false, "zero": false}, "axis": null}, "x2": {"field": "nx"}, "y2": {"field": "ny"}}},
{"data": {"name": "ringsB"}, "transform": [{"calculate": "(datum.g+45)*160/52.1", "as": "rp"}],
 "mark": {"type": "point", "shape": "circle", "filled": false, "stroke": "#e0e0e0", "strokeWidth": 1, "opacity": 1},
 "encoding": {"x": {"datum": 0, "type": "quantitative", "scale": {"domain": [-300, 219], "nice": false, "zero": false}, "title": "(b)"}, "y": {"datum": 0, "type": "quantitative", "scale": {"domain": [-208, 185], "nice": false, "zero": false}, "axis": null}, "size": {"field": "rp", "type": "quantitative", "scale": {"type": "pow", "exponent": 2, "domain": [0, 160], "range": [0, 102400]}, "legend": null}}},
{"data": {"name": "angles"}, "transform": [{"calculate": "168 + 4*length(datum.lab)*abs(sin(datum.t*PI/180)) + 7*abs(cos(datum.t*PI/180))", "as": "d"}, {"calculate": "datum.d*sin(datum.t*PI/180)", "as": "lx"}, {"calculate": "datum.d*cos(datum.t*PI/180)", "as": "ly"}],
 "mark": {"type": "text", "fontSize": 16.6, "color": "#262626", "align": "center", "baseline": "middle"},
 "encoding": {"x": {"field": "lx", "type": "quantitative", "scale": {"domain": [-300, 219], "nice": false, "zero": false}, "title": "(b)"}, "y": {"field": "ly", "type": "quantitative", "scale": {"domain": [-208, 185], "nice": false, "zero": false}, "axis": null}, "text": {"field": "lab", "type": "nominal"}}},
{"data": {"name": "ticksB"}, "transform": [{"calculate": "(datum.g+45)*160/52.1", "as": "rp"}, {"calculate": "datum.rp*sin(10*PI/180)", "as": "lx"}, {"calculate": "datum.rp*cos(10*PI/180)", "as": "ly"}],
 "mark": {"type": "text", "fontSize": 16.6, "color": "#262626", "align": "center", "baseline": "middle"},
 "encoding": {"x": {"field": "lx", "type": "quantitative", "scale": {"domain": [-300, 219], "nice": false, "zero": false}, "title": "(b)"}, "y": {"field": "ly", "type": "quantitative", "scale": {"domain": [-208, 185], "nice": false, "zero": false}, "axis": null}, "text": {"field": "lab", "type": "nominal"}}},
{"data": {"name": "b"}, "transform": [{"calculate": "(datum.g+45)*160/52.1", "as": "rp"}, {"calculate": "datum.rp*sin(datum.t*PI/180)", "as": "x"}, {"calculate": "datum.rp*cos(datum.t*PI/180)", "as": "y"}],
 "mark": {"type": "line", "strokeWidth": 2.2},
 "encoding": {"x": {"field": "x", "type": "quantitative", "scale": {"domain": [-300, 219], "nice": false, "zero": false}, "title": "(b)"}, "y": {"field": "y", "type": "quantitative", "scale": {"domain": [-208, 185], "nice": false, "zero": false}, "axis": null}, "order": {"field": "t", "type": "quantitative"},
  "color": {"field": "s", "type": "nominal", "scale": {"domain": ["Bird 2 Measured", "Bird 1 Measured", "No Bird Measured"], "range": ["#0072BD", "#D95319", "#EDB120"]}, "legend": {"legendX": 15, "legendY": 321}},
  "strokeDash": {"field": "s", "type": "nominal", "scale": {"domain": ["Bird 2 Measured", "Bird 1 Measured", "No Bird Measured"], "range": [[1, 0], [1, 0], [9, 6]]}, "legend": {"legendX": 15, "legendY": 321}}}}
]
},
{
"width": 519, "height": 393,
"title": {"text": "Co-polarized Realized Gain for ϕ=90° at 2.85 GHz", "dx": 33},
"layer": [
{"data": {"name": "angles"}, "transform": [{"calculate": "160*sin(datum.t*PI/180)", "as": "sx"}, {"calculate": "160*cos(datum.t*PI/180)", "as": "sy"}, {"calculate": "-datum.sx", "as": "nx"}, {"calculate": "-datum.sy", "as": "ny"}],
 "mark": {"type": "rule", "stroke": "#e0e0e0", "strokeWidth": 1},
 "encoding": {"x": {"field": "sx", "type": "quantitative", "scale": {"domain": [-296.7, 222.3], "nice": false, "zero": false}, "title": "(c)"}, "y": {"field": "sy", "type": "quantitative", "scale": {"domain": [-210, 183], "nice": false, "zero": false}, "axis": null}, "x2": {"field": "nx"}, "y2": {"field": "ny"}}},
{"data": {"name": "ringsB"}, "transform": [{"calculate": "(datum.g+45)*160/52.1", "as": "rp"}],
 "mark": {"type": "point", "shape": "circle", "filled": false, "stroke": "#e0e0e0", "strokeWidth": 1, "opacity": 1},
 "encoding": {"x": {"datum": 0, "type": "quantitative", "scale": {"domain": [-296.7, 222.3], "nice": false, "zero": false}, "title": "(c)"}, "y": {"datum": 0, "type": "quantitative", "scale": {"domain": [-210, 183], "nice": false, "zero": false}, "axis": null}, "size": {"field": "rp", "type": "quantitative", "scale": {"type": "pow", "exponent": 2, "domain": [0, 160], "range": [0, 102400]}, "legend": null}}},
{"data": {"name": "angles"}, "transform": [{"calculate": "168 + 4*length(datum.lab)*abs(sin(datum.t*PI/180)) + 7*abs(cos(datum.t*PI/180))", "as": "d"}, {"calculate": "datum.d*sin(datum.t*PI/180)", "as": "lx"}, {"calculate": "datum.d*cos(datum.t*PI/180)", "as": "ly"}],
 "mark": {"type": "text", "fontSize": 16.6, "color": "#262626", "align": "center", "baseline": "middle"},
 "encoding": {"x": {"field": "lx", "type": "quantitative", "scale": {"domain": [-296.7, 222.3], "nice": false, "zero": false}, "title": "(c)"}, "y": {"field": "ly", "type": "quantitative", "scale": {"domain": [-210, 183], "nice": false, "zero": false}, "axis": null}, "text": {"field": "lab", "type": "nominal"}}},
{"data": {"name": "ticksB"}, "transform": [{"calculate": "(datum.g+45)*160/52.1", "as": "rp"}, {"calculate": "datum.rp*sin(10*PI/180)", "as": "lx"}, {"calculate": "datum.rp*cos(10*PI/180)", "as": "ly"}],
 "mark": {"type": "text", "fontSize": 16.6, "color": "#262626", "align": "center", "baseline": "middle"},
 "encoding": {"x": {"field": "lx", "type": "quantitative", "scale": {"domain": [-296.7, 222.3], "nice": false, "zero": false}, "title": "(c)"}, "y": {"field": "ly", "type": "quantitative", "scale": {"domain": [-210, 183], "nice": false, "zero": false}, "axis": null}, "text": {"field": "lab", "type": "nominal"}}},
{"data": {"name": "c"}, "transform": [{"calculate": "(datum.g+45)*160/52.1", "as": "rp"}, {"calculate": "datum.rp*sin(datum.t*PI/180)", "as": "x"}, {"calculate": "datum.rp*cos(datum.t*PI/180)", "as": "y"}],
 "mark": {"type": "line", "strokeWidth": 2.2},
 "encoding": {"x": {"field": "x", "type": "quantitative", "scale": {"domain": [-296.7, 222.3], "nice": false, "zero": false}, "title": "(c)"}, "y": {"field": "y", "type": "quantitative", "scale": {"domain": [-210, 183], "nice": false, "zero": false}, "axis": null}, "order": {"field": "t", "type": "quantitative"},
  "color": {"field": "s", "type": "nominal", "scale": {"domain": ["Bird 2 Measured", "Bird 1 Measured", "No Bird Measured"], "range": ["#0072BD", "#D95319", "#EDB120"]}, "legend": {"legendX": 15, "legendY": 320}},
  "strokeDash": {"field": "s", "type": "nominal", "scale": {"domain": ["Bird 2 Measured", "Bird 1 Measured", "No Bird Measured"], "range": [[1, 0], [1, 0], [9, 6]]}, "legend": {"legendX": 15, "legendY": 320}}}}
]
}
],
"resolve": {"scale": {"color": "independent", "strokeDash": "independent"}, "legend": {"color": "independent", "strokeDash": "independent"}},
"config": {
"font": "Liberation Sans",
"view": {"stroke": null},
"axis": {"labels": false, "ticks": false, "domain": false, "grid": false, "titleFont": "Liberation Serif", "titleFontSize": 17, "titleFontWeight": "normal", "titleColor": "#000000", "titlePadding": 7},
"title": {"font": "Liberation Sans", "fontSize": 19, "fontWeight": "bold", "color": "#000000", "offset": 5.5, "anchor": "middle"},
"legend": {"orient": "none", "title": null, "symbolType": "M-1,0L4.6,0", "symbolSize": 130, "symbolStrokeWidth": 2.2, "labelFont": "Liberation Sans", "labelFontSize": 15.4, "labelColor": "#000000", "strokeColor": "#8c8c8c", "fillColor": "#ffffff", "padding": 4.5, "rowPadding": 3.2, "labelOffset": 23.5, "labelLimit": 300}
}
}
